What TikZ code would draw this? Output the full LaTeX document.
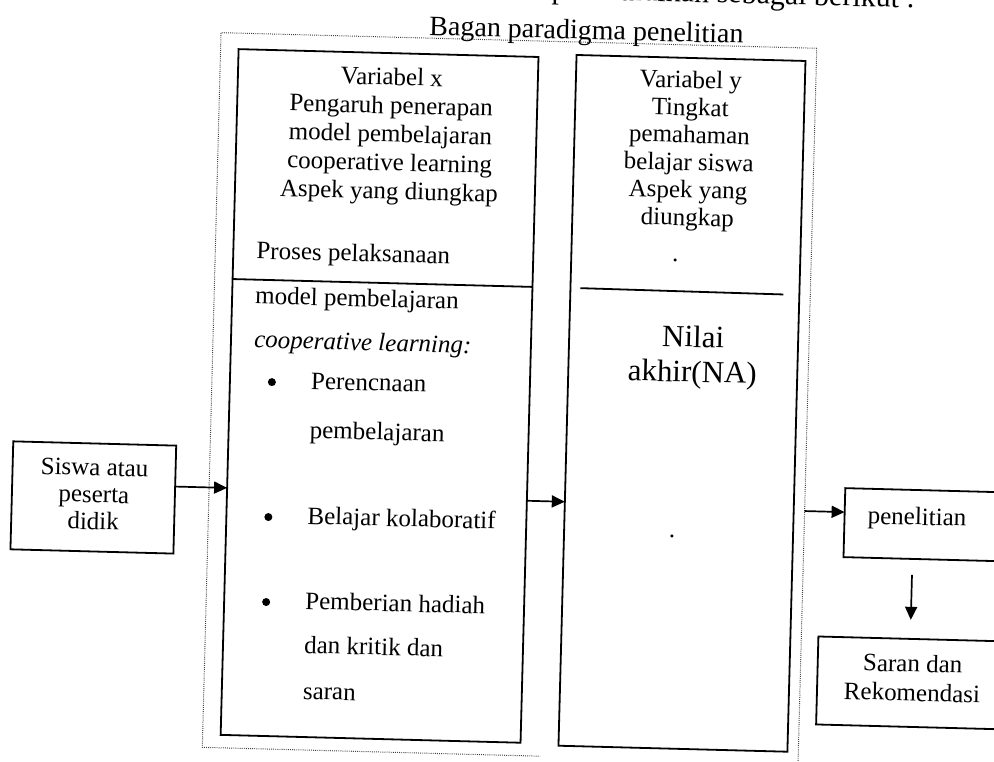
\documentclass[tikz,border=0pt]{standalone}
\usepackage{fontspec}
\setmainfont{Liberation Serif}
\usetikzlibrary{arrows.meta,calc}
\tikzset{
  box/.style={draw, line width=1.8pt, anchor=north west, inner sep=0pt, outer sep=0pt},
  divline/.style={line width=1.8pt},
  frameline/.style={line width=1pt, dash pattern=on 0.9pt off 1.2pt, black!75},
  conn/.style={line width=1.7pt, -{Triangle[length=13pt,width=12pt]}},
  txt/.style={inner sep=0pt, font=\fontsize{25}{28}\selectfont},
  lt/.style={txt, anchor=base west},
  ct/.style={txt, anchor=base},
  bul/.style={circle, fill, inner sep=0pt, minimum size=8pt},
  bigt/.style={inner sep=0pt, anchor=base, font=\fontsize{31}{35}\selectfont},
  titlet/.style={inner sep=0pt, font=\fontsize{28}{32}\selectfont},
}
\begin{document}
\begin{tikzpicture}[x=1pt,y=-1pt]
\useasboundingbox (0,0) rectangle (994,762);
\clip (0,0) rectangle (994,762);
\fill[white] (0,0) rectangle (994,762);
\begin{scope}[rotate around={-1.5:(497,381)}, transform shape]
  % dotted frame
  \coordinate (fTL) at (212,40);
  \coordinate (fTR) at (808,40);
  \coordinate (fBL) at (212,755);
  \coordinate (fBM) at (550,755);
  \coordinate (fBR) at (808,755);
  \coordinate (fR) at (808,503);
  \draw[frameline] (fTR) -- (fTL) -- (fBL) -- (fBM);
  \draw[frameline] (fTR) -- (fBR);

  % titles
  \node[titlet, anchor=base east, font=\fontsize{30}{34}\selectfont] (intro) at (905,-3) {dapat diuraikan sebagai berikut :};
  \node[titlet, anchor=base west] (title) at (420,37) {Bagan paradigma penelitian};

  % boxes
  \node[box, minimum width=163pt, minimum height=108pt] (S) at (15,454) {};
  \node[box, minimum width=300pt, minimum height=686pt] (X) at (230,56) {};
  \node[box, minimum width=229pt, minimum height=691pt] (Y) at (568,53) {};
  \node[box, minimum width=200pt, minimum height=69pt] (P) at (848,479) {};
  \node[box, minimum width=200pt, minimum height=88pt] (R) at (825,628) {};

  % dividers
  \draw[divline] (230,286) -- (530,286);
  \draw[divline] (578,286) -- (781,287);

  % Siswa text
  \node[ct] (s1) at (97,486) {Siswa atau};
  \node[ct] (s2) at (97,513) {peserta};
  \node[ct] (s3) at (97,540) {didik};

  % Box X header
  \node[ct] (x1) at (384,88) {Variabel x};
  \node[ct] (x2) at (384,116.5) {Pengaruh penerapan};
  \node[ct] (x3) at (384,145) {model pembelajaran};
  \node[ct] (x4) at (384,173.5) {cooperative learning};
  \node[ct] (x5) at (384,202) {Aspek yang diungkap};
  \node[lt] (x6) at (253,265) {Proses pelaksanaan};
  % Box X body
  \node[lt] (x7) at (253,310) {model pembelajaran};
  \node[lt] (x8) at (253,354) {\itshape cooperative learning:};
  \node[bul] (b1) at (272,388) {};
  \node[lt] (x9) at (311,394) {Perencnaan};
  \node[lt] (x10) at (311,443) {pembelajaran};
  \node[bul] (b2) at (272,523) {};
  \node[lt] (x11) at (311,529) {Belajar kolaboratif};
  \node[bul] (b3) at (272,608) {};
  \node[lt] (x12) at (311,614) {Pemberian hadiah};
  \node[lt] (x13) at (311,658) {dan kritik dan};
  \node[lt] (x14) at (311,704) {saran};

  % Box Y text
  \node[ct] (y1) at (683,83) {Variabel y};
  \node[ct] (y2) at (683,110.5) {Tingkat};
  \node[ct] (y3) at (683,138) {pemahaman};
  \node[ct] (y4) at (683,165.5) {belajar siswa};
  \node[ct] (y5) at (683,193) {Aspek yang};
  \node[ct] (y6) at (683,220.5) {diungkap};
  \node[ct] (y7) at (672,257) {.};
  \node[bigt] (y8) at (692,342) {Nilai};
  \node[bigt] (y9) at (692,377) {akhir(NA)};
  \node[ct] (y10) at (676,533) {.};

  % right boxes text
  \node[lt] (p1) at (871,514) {penelitian};
  \node[ct] (r1) at (920,661) {Saran dan};
  \node[ct] (r2) at (920,690) {Rekomendasi};

  % connectors
  \draw[conn] ($(S.north east)!0.3796!(S.south east)$) -- ($(X.north west)!0.6399!(X.south west)$);
  \draw[conn] ($(X.north east)!0.6472!(X.south east)$) -- ($(Y.north west)!0.6469!(Y.south west)$);
  \draw[conn] (fR) -- ($(P.north west)!0.348!(P.south west)$);
  \coordinate (d1) at (917,564);
  \coordinate (d2) at (917,609);
  \draw[conn] (d1) -- (d2);
\end{scope}
\end{tikzpicture}
\end{document}
